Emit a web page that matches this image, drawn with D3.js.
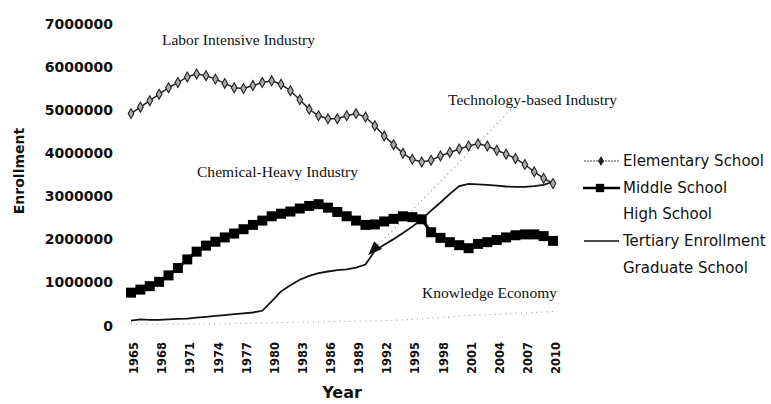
<!DOCTYPE html>
<html>
<head>
<meta charset="utf-8">
<script src="https://cdn.jsdelivr.net/npm/d3@7"></script>
<style>
  html, body { margin: 0; padding: 0; background: #fff; }
  svg { display: block; }
</style>
</head>
<body>
<svg id="chart" width="771" height="404"></svg>
<script>
// ---------------- DATA ----------------
const years = [1965,1966,1967,1968,1969,1970,1971,1972,1973,1974,1975,1976,1977,1978,1979,1980,
  1981,1982,1983,1984,1985,1986,1987,1988,1989,1990,1991,1992,1993,1994,1995,1996,1997,1998,1999,
  2000,2001,2002,2003,2004,2005,2006,2007,2008,2009,2010];

const elementary = [4900000,5050000,5200000,5350000,5500000,5620000,5750000,5820000,5780000,5700000,
  5600000,5500000,5480000,5550000,5620000,5660000,5580000,5430000,5220000,5000000,4850000,4780000,
  4780000,4850000,4900000,4820000,4620000,4380000,4180000,3980000,3840000,3780000,3820000,3920000,
  4000000,4080000,4150000,4200000,4150000,4050000,3960000,3860000,3720000,3550000,3400000,3280000];

const middle = [750000,820000,900000,1000000,1150000,1320000,1520000,1700000,1840000,1930000,
  2030000,2120000,2220000,2320000,2420000,2520000,2580000,2630000,2700000,2760000,2800000,2720000,
  2620000,2520000,2420000,2320000,2330000,2400000,2460000,2520000,2500000,2450000,2150000,2020000,
  1920000,1850000,1780000,1880000,1920000,1970000,2030000,2080000,2100000,2100000,2060000,1950000];

const tertiary = [100000,130000,120000,120000,130000,140000,150000,170000,190000,210000,230000,250000,
  270000,290000,330000,550000,780000,920000,1050000,1140000,1200000,1240000,1270000,1290000,1330000,
  1400000,1720000,1860000,1990000,2130000,2280000,2450000,2650000,2840000,3040000,3220000,3270000,
  3260000,3250000,3230000,3210000,3200000,3200000,3220000,3250000,3320000];

const graduate = [15000,16000,17000,18000,20000,22000,23000,24000,25000,27000,30000,33000,36000,40000,
  45000,50000,55000,60000,65000,70000,75000,78000,80000,83000,87000,90000,95000,100000,110000,120000,
  130000,145000,160000,175000,190000,210000,220000,230000,240000,250000,260000,270000,280000,290000,
  300000,310000];

const seriesNames = ["Elementary School","Middle School","High School","Tertiary Enrollment","Graduate School"];

const xTickLabels = ["1965","1968","1971","1974","1977","1980","1983","1986","1989","1992","1995","1998","2001","2004","2007","2010"];
const yTickValues = [0,1000000,2000000,3000000,4000000,5000000,6000000,7000000];

const annotationTexts = ["Labor Intensive Industry","Technology-based Industry","Chemical-Heavy Industry","Knowledge Economy"];
// arrow: from (year, value) to (year, value)
const arrowFrom = [2005.5, 4990000];
const arrowTo = [1990.3, 1620000];

// ---------------- DRAW ----------------
const svg = d3.select("#chart");
const x = d3.scaleLinear().domain([1965, 2010]).range([131, 553]);
const y = d3.scaleLinear().domain([0, 7000000]).range([325, 23]);

const zip = arr => years.map((yr, i) => [yr, arr[i]]);
const line = d3.line().x(d => x(d[0])).y(d => y(d[1]));

// Y axis (labels only)
const yAxis = d3.axisLeft(y).tickValues(yTickValues).tickSize(0).tickPadding(0).tickFormat(d3.format("d"));
const gy = svg.append("g").attr("transform", "translate(113,0)").call(yAxis);
gy.select(".domain").remove();
gy.selectAll("text")
  .attr("font-family", "DejaVu Sans").attr("font-weight", "bold").attr("font-size", 14)
  .attr("fill", "#111").attr("dy", "0.36em");

// X axis labels (rotated)
const gx = svg.append("g");
gx.selectAll("text").data(xTickLabels).join("text")
  .attr("transform", d => `translate(${x(+d) + 3},342) rotate(-90)`)
  .attr("text-anchor", "end")
  .attr("dy", "0.36em")
  .attr("font-family", "DejaVu Sans").attr("font-weight", "bold").attr("font-size", 11.5)
  .attr("fill", "#111")
  .text(d => d);

// Axis titles
svg.append("text").attr("x", 342).attr("y", 398).attr("text-anchor", "middle")
  .attr("font-family", "DejaVu Sans").attr("font-weight", "bold").attr("font-size", 16)
  .attr("fill", "#111").text("Year");
svg.append("text").attr("transform", "translate(24,171) rotate(-90)").attr("text-anchor", "middle")
  .attr("font-family", "DejaVu Sans").attr("font-weight", "bold").attr("font-size", 14)
  .attr("fill", "#111").text("Enrollment");

// Graduate (dotted grey)
svg.append("path").datum(zip(graduate)).attr("d", line)
  .attr("fill", "none").attr("stroke", "#a8a8a8").attr("stroke-width", 1.1)
  .attr("stroke-dasharray", "1.2,4");

// Arrow (dotted line + head)
const ax1 = x(arrowFrom[0]), ay1 = y(arrowFrom[1]);
const ax2 = x(arrowTo[0]), ay2 = y(arrowTo[1]);
svg.append("line").attr("x1", ax1).attr("y1", ay1).attr("x2", ax2).attr("y2", ay2)
  .attr("stroke", "#999").attr("stroke-width", 1.1).attr("stroke-dasharray", "1.2,3.5");
const ang = Math.atan2(ay2 - ay1, ax2 - ax1);
const hl = 14, hw = 5.5;
const bx = ax2 - hl * Math.cos(ang), by = ay2 - hl * Math.sin(ang);
svg.append("path")
  .attr("d", `M${ax2},${ay2} L${bx + hw * Math.sin(ang)},${by - hw * Math.cos(ang)} L${bx - hw * Math.sin(ang)},${by + hw * Math.cos(ang)} Z`)
  .attr("fill", "#111");

// Tertiary
svg.append("path").datum(zip(tertiary)).attr("d", line)
  .attr("fill", "none").attr("stroke", "#111").attr("stroke-width", 1.8);

// Middle school
svg.append("path").datum(zip(middle)).attr("d", line)
  .attr("fill", "none").attr("stroke", "#000").attr("stroke-width", 3);
svg.append("g").selectAll("path").data(zip(middle)).join("path")
  .attr("transform", d => `translate(${x(d[0])},${y(d[1])})`)
  .attr("d", d3.symbol(d3.symbolSquare, 100))
  .attr("fill", "#000");

// Elementary
svg.append("path").datum(zip(elementary)).attr("d", line)
  .attr("fill", "none").attr("stroke", "#222").attr("stroke-width", 1.5);
svg.append("g").selectAll("path").data(zip(elementary)).join("path")
  .attr("transform", d => `translate(${x(d[0])},${y(d[1])})`)
  .attr("d", d3.symbol(d3.symbolDiamond, 28))
  .attr("fill", "#aaa").attr("stroke", "#222").attr("stroke-width", 1.1);

// Annotations
const annPos = [
  { x: 162, y: 45, w: 153 },
  { x: 448, y: 105, w: 169 },
  { x: 197, y: 177, w: 161 },
  { x: 422, y: 298, w: 135 }
];
svg.append("g").selectAll("text").data(annotationTexts).join("text")
  .attr("x", (d, i) => annPos[i].x).attr("y", (d, i) => annPos[i].y)
  .attr("textLength", (d, i) => annPos[i].w).attr("lengthAdjust", "spacingAndGlyphs")
  .attr("font-family", "Liberation Serif").attr("font-size", 15).attr("fill", "#111")
  .text(d => d);

// Legend
const legY = [161, 188, 214, 241, 268];
const leg = svg.append("g");
seriesNames.forEach((name, i) => {
  const ly = legY[i];
  if (i === 0) {
    leg.append("line").attr("x1", 584).attr("x2", 619).attr("y1", ly).attr("y2", ly)
      .attr("stroke", "#444").attr("stroke-width", 1).attr("stroke-dasharray", "2,1");
    leg.append("path").attr("transform", `translate(601,${ly})`)
      .attr("d", d3.symbol(d3.symbolDiamond, 30)).attr("fill", "#222");
  } else if (i === 1) {
    leg.append("line").attr("x1", 583).attr("x2", 620).attr("y1", ly).attr("y2", ly)
      .attr("stroke", "#000").attr("stroke-width", 2.5);
    leg.append("path").attr("transform", `translate(600,${ly})`)
      .attr("d", d3.symbol(d3.symbolSquare, 70)).attr("fill", "#000");
  } else if (i === 3) {
    leg.append("line").attr("x1", 584).attr("x2", 619).attr("y1", ly).attr("y2", ly)
      .attr("stroke", "#111").attr("stroke-width", 1.3);
  }
  leg.append("text").attr("x", 623).attr("y", ly).attr("dy", "0.36em")
    .attr("font-family", "DejaVu Sans").attr("font-size", 15).attr("fill", "#111")
    .text(name);
});
</script>
</body>
</html>
